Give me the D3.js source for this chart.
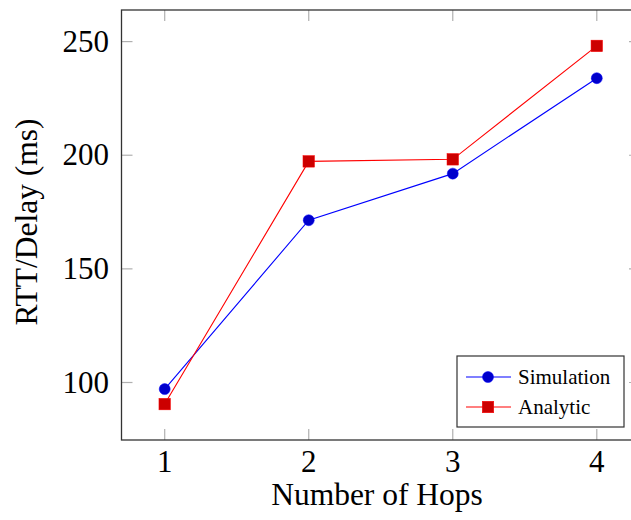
<!DOCTYPE html>
<html>
<head>
<meta charset="utf-8">
<script src="https://cdn.jsdelivr.net/npm/d3@7"></script>
<style>
  body { margin: 0; background: #fff; }
  svg { display: block; }
  text { font-family: "Liberation Serif", "DejaVu Serif", serif; fill: #000; }
</style>
</head>
<body>
<div id="chart"></div>
<script>
// data
var hops = [1, 2, 3, 4];
var simulation = [97.1, 171.4, 191.9, 233.9];
var analytic = [90.5, 197.3, 198.2, 248.1];
var yTicks = [100, 150, 200, 250];
var seriesNames = ["Simulation", "Analytic"];

var width = 631, height = 520;
var plot = {left: 121.5, right: 640, top: 10, bottom: 440};

var svg = d3.select("#chart").append("svg")
    .attr("width", width).attr("height", height);

var x = d3.scaleLinear().domain([0.7, 4.3]).range([plot.left, plot.right]);
var y = d3.scaleLinear().domain([74.7, 263.9]).range([plot.bottom, plot.top]);

// ticks (inside, on all four sides)
var tickLen = 11;
var xTickG = svg.append("g").attr("class", "xticks");
xTickG.selectAll("line.b").data(hops).enter().append("line").attr("class", "b")
    .attr("x1", function(d) { return x(d); }).attr("x2", function(d) { return x(d); })
    .attr("y1", plot.bottom).attr("y2", plot.bottom - tickLen);
xTickG.selectAll("line.t").data(hops).enter().append("line").attr("class", "t")
    .attr("x1", function(d) { return x(d); }).attr("x2", function(d) { return x(d); })
    .attr("y1", plot.top).attr("y2", plot.top + tickLen);
var yTickG = svg.append("g").attr("class", "yticks");
yTickG.selectAll("line.l").data(yTicks).enter().append("line").attr("class", "l")
    .attr("y1", function(d) { return y(d); }).attr("y2", function(d) { return y(d); })
    .attr("x1", plot.left).attr("x2", plot.left + tickLen);
yTickG.selectAll("line.r").data(yTicks).enter().append("line").attr("class", "r")
    .attr("y1", function(d) { return y(d); }).attr("y2", function(d) { return y(d); })
    .attr("x1", plot.right).attr("x2", plot.right - tickLen);
svg.selectAll(".xticks line, .yticks line")
    .attr("stroke", "#b0b0b0").attr("stroke-width", 1.2);

// frame
svg.append("rect")
    .attr("x", plot.left).attr("y", plot.top)
    .attr("width", plot.right - plot.left).attr("height", plot.bottom - plot.top)
    .attr("fill", "none").attr("stroke", "#333").attr("stroke-width", 1.3);

// tick labels
svg.append("g").selectAll("text").data(hops).enter().append("text")
    .attr("x", function(d) { return x(d); })
    .attr("y", 472)
    .attr("text-anchor", "middle")
    .attr("font-size", 31)
    .text(function(d) { return d; });
svg.append("g").selectAll("text").data(yTicks).enter().append("text")
    .attr("x", 109)
    .attr("y", function(d) { return y(d); })
    .attr("dy", "0.33em")
    .attr("text-anchor", "end")
    .attr("font-size", 31)
    .text(function(d) { return d; });

// axis labels
svg.append("text")
    .attr("x", 377)
    .attr("y", 505)
    .attr("text-anchor", "middle")
    .attr("font-size", 31.5)
    .text("Number of Hops");
svg.append("text")
    .attr("transform", "translate(37,222) rotate(-90)")
    .attr("text-anchor", "middle")
    .attr("font-size", 31.5)
    .text("RTT/Delay (ms)");

// lines
var line = function(vals) {
    return d3.line()
        .x(function(d, i) { return x(hops[i]); })
        .y(function(d) { return y(d); })(vals);
};
svg.append("path").attr("d", line(simulation))
    .attr("fill", "none").attr("stroke", "#0000ff").attr("stroke-width", 1.1);
svg.append("path").attr("d", line(analytic))
    .attr("fill", "none").attr("stroke", "#ff0000").attr("stroke-width", 1.1);

// markers
svg.append("g").selectAll("circle").data(simulation).enter().append("circle")
    .attr("cx", function(d, i) { return x(hops[i]); })
    .attr("cy", function(d) { return y(d); })
    .attr("r", 5.5)
    .attr("fill", "#0000cc").attr("stroke", "#0000ff").attr("stroke-width", 0.5);
var sq = 11.5;
svg.append("g").selectAll("rect").data(analytic).enter().append("rect")
    .attr("x", function(d, i) { return x(hops[i]) - sq / 2; })
    .attr("y", function(d) { return y(d) - sq / 2; })
    .attr("width", sq).attr("height", sq)
    .attr("fill", "#cc0000").attr("stroke", "#ff0000").attr("stroke-width", 0.5);

// legend
var legend = svg.append("g").attr("transform", "translate(457,356)");
legend.append("rect")
    .attr("width", 167).attr("height", 71)
    .attr("fill", "#fff").attr("stroke", "#333").attr("stroke-width", 1.2);
var rows = [
    {name: seriesNames[0], color: "#0000ff", fill: "#0000cc", mark: "circle"},
    {name: seriesNames[1], color: "#ff0000", fill: "#cc0000", mark: "square"}
];
rows.forEach(function(r, i) {
    var cy = 21 + i * 30;
    legend.append("line")
        .attr("x1", 9).attr("x2", 54).attr("y1", cy).attr("y2", cy)
        .attr("stroke", r.color).attr("stroke-width", 1.1);
    if (r.mark === "circle") {
        legend.append("circle").attr("cx", 31).attr("cy", cy).attr("r", 5.5)
            .attr("fill", r.fill).attr("stroke", r.color).attr("stroke-width", 0.5);
    } else {
        legend.append("rect").attr("x", 31 - sq / 2).attr("y", cy - sq / 2)
            .attr("width", sq).attr("height", sq)
            .attr("fill", r.fill).attr("stroke", r.color).attr("stroke-width", 0.5);
    }
    legend.append("text")
        .attr("x", 61).attr("y", cy).attr("dy", "0.33em")
        .attr("font-size", 21)
        .text(r.name);
});
</script>
</body>
</html>
